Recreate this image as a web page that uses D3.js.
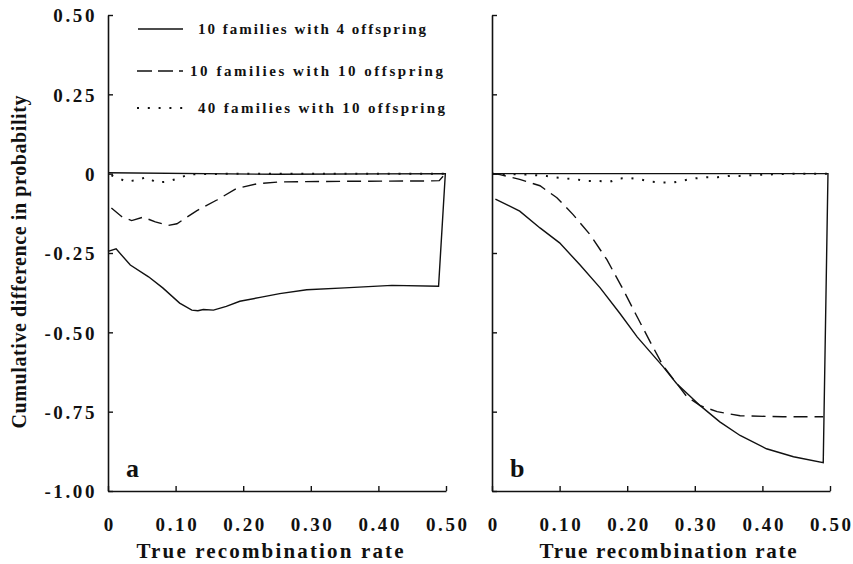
<!DOCTYPE html>
<html>
<head>
<meta charset="utf-8">
<script src="https://cdn.jsdelivr.net/npm/d3@7"></script>
<style>
body{margin:0;background:#fff}
svg text{font-family:"Liberation Serif","Times New Roman",serif;font-weight:bold;fill:#111}
</style>
</head>
<body>
<div id="chart"></div>
<script>
// axis ticks
const rateTicks = [0, 0.1, 0.2, 0.3, 0.4, 0.5];
const rateTickLabels = ["0", "0.10", "0.20", "0.30", "0.40", "0.50"];
const diffTicks = [-1, -0.75, -0.5, -0.25, 0, 0.25, 0.5];
const diffTickLabels = ["-1.00", "-0.75", "-0.50", "-0.25", "0", "0.25", "0.50"];
const seriesNames = ["10 families with 4 offspring", "10 families with 10 offspring", "40 families with 10 offspring"];
const panelLabels = ["a", "b"];
const xTitle = "True recombination rate";
const yTitle = "Cumulative difference in probability";

// panel a: [rate, cumulative difference]
const aFour = [[0,-0.245],[0.012,-0.237],[0.033,-0.288],[0.06,-0.325],[0.081,-0.36],[0.106,-0.408],[0.124,-0.43],[0.133,-0.432],
  [0.141,-0.428],[0.156,-0.43],[0.175,-0.418],[0.195,-0.402],[0.225,-0.39],[0.254,-0.378],[0.294,-0.366],[0.35,-0.36],
  [0.42,-0.352],[0.489,-0.355],[0.499,0],[0.25,-0.002],[0,0.003]];
const aTen = [[0.005,-0.108],[0.02,-0.135],[0.035,-0.148],[0.052,-0.137],[0.07,-0.152],[0.089,-0.163],[0.102,-0.158],
  [0.131,-0.117],[0.161,-0.083],[0.19,-0.047],[0.22,-0.032],[0.254,-0.026],[0.35,-0.024],[0.472,-0.023],[0.49,-0.022],[0.499,0]];
const aForty = [[0.005,-0.005],[0.012,-0.011],[0.027,-0.025],[0.041,-0.021],[0.057,-0.011],[0.072,-0.028],[0.088,-0.025],
  [0.104,-0.015],[0.12,-0.002],[0.2,0],[0.3,0],[0.4,0],[0.5,0]];

// panel b
const bFour = [[0.005,-0.08],[0.041,-0.118],[0.071,-0.171],[0.1,-0.218],[0.13,-0.287],[0.16,-0.36],[0.189,-0.44],[0.215,-0.515],
  [0.253,-0.608],[0.273,-0.661],[0.308,-0.731],[0.337,-0.782],[0.367,-0.825],[0.406,-0.867],[0.446,-0.892],[0.49,-0.911],
  [0.497,0],[0.25,0],[0,0]];
const bTen = [[0,0],[0.012,-0.003],[0.041,-0.018],[0.071,-0.038],[0.096,-0.076],[0.12,-0.129],[0.145,-0.192],[0.17,-0.271],
  [0.194,-0.365],[0.212,-0.44],[0.234,-0.53],[0.253,-0.605],[0.288,-0.702],[0.308,-0.731],[0.333,-0.75],[0.367,-0.763],
  [0.43,-0.766],[0.49,-0.766]];
const bForty = [[0,0],[0.05,-0.003],[0.08,-0.007],[0.091,-0.011],[0.108,-0.015],[0.125,-0.018],[0.141,-0.023],[0.157,-0.023],
  [0.175,-0.025],[0.189,-0.015],[0.205,-0.014],[0.219,-0.018],[0.234,-0.025],[0.251,-0.028],[0.268,-0.028],[0.284,-0.021],
  [0.3,-0.015],[0.318,-0.011],[0.334,-0.011],[0.352,-0.007],[0.367,-0.007],[0.4,-0.003],[0.45,0],[0.5,0]];

const panelData = [[aFour, aTen, aForty], [bFour, bTen, bForty]];

let width = 853, height = 564;
let dashes = [null, "14,7", "2,8.8"];
let serif = "'Liberation Serif','Times New Roman',serif";

let svg = d3.select("#chart").append("svg")
    .attr("width", width)
    .attr("height", height)
    .attr("font-family", serif);

let yScale = d3.scaleLinear().domain([-1, 0.5]).range([491, 15]);
let panelRanges = [[108, 446], [492, 830]];
let titleCenters = [270, 668];

panelRanges.forEach((range, p) => {
    let xScale = d3.scaleLinear().domain([0, 0.5]).range(range);
    let g = svg.append("g");

    // x axis, ticks pointing inwards
    let xAxis = g.append("g")
        .attr("transform", `translate(0,${yScale(-1)})`)
        .call(d3.axisBottom(xScale)
            .tickValues(rateTicks)
            .tickFormat((d, i) => rateTickLabels[i])
            .tickSize(-5).tickSizeOuter(0).tickPadding(27));
    xAxis.selectAll("text").attr("font-size", 19).attr("letter-spacing", "2.6px").attr("dx", "1.3px");

    let yAxis = g.append("g")
        .attr("transform", `translate(${range[0]},0)`)
        .call(d3.axisLeft(yScale)
            .tickValues(diffTicks)
            .tickFormat((d, i) => p == 0 ? diffTickLabels[i] : "")
            .tickSize(-5).tickSizeOuter(0).tickPadding(11));
    yAxis.selectAll("text").attr("font-size", 19).attr("letter-spacing", "2.6px").attr("dy", "0.36em");

    [xAxis, yAxis].forEach(a => {
        a.attr("font-family", serif).attr("font-weight", "bold");
        a.select(".domain").attr("stroke", "#111").attr("stroke-width", 1.6);
        a.selectAll(".tick line").attr("stroke", "#111").attr("stroke-width", 1.4);
    });

    let line = d3.line().x(d => xScale(d[0])).y(d => yScale(d[1]));
    panelData[p].forEach((data, i) => {
        g.append("path")
            .datum(data)
            .attr("fill", "none")
            .attr("stroke", "#111")
            .attr("stroke-width", i == 2 ? 2 : 1.4)
            .attr("stroke-dasharray", dashes[i])
            .attr("d", line);
    });

    g.append("text")
        .attr("x", range[0] + 18)
        .attr("y", 477)
        .attr("font-size", 26)
        .text(panelLabels[p]);

    g.append("text")
        .attr("x", titleCenters[p])
        .attr("y", 558)
        .attr("text-anchor", "middle")
        .attr("font-size", 21)
        .attr("textLength", p == 0 ? 267 : 257)
        .attr("lengthAdjust", "spacing")
        .text(xTitle);
});

svg.append("text")
    .attr("transform", "translate(26,262) rotate(-90)")
    .attr("text-anchor", "middle")
    .attr("font-size", 20)
    .attr("textLength", 333)
    .attr("lengthAdjust", "spacing")
    .text(yTitle);

// legend inside panel a
let legendRows = [
    {y: 29, x0: 138, x1: 183, tx: 198, tw: 228},
    {y: 71, x0: 137, x1: 183, tx: 190, tw: 253},
    {y: 108, x0: 137, x1: 183, tx: 198, tw: 247}
];
let legend = svg.append("g");
legendRows.forEach((r, i) => {
    legend.append("line")
        .attr("x1", r.x0).attr("x2", r.x1)
        .attr("y1", r.y).attr("y2", r.y)
        .attr("stroke", "#111")
        .attr("stroke-width", i == 2 ? 2 : 1.5)
        .attr("stroke-dasharray", i == 1 ? "15,6" : dashes[i]);
    legend.append("text")
        .attr("x", r.tx)
        .attr("y", r.y + 5)
        .attr("font-size", 15)
        .attr("textLength", r.tw)
        .attr("lengthAdjust", "spacing")
        .text(seriesNames[i]);
});
</script>
</body>
</html>
